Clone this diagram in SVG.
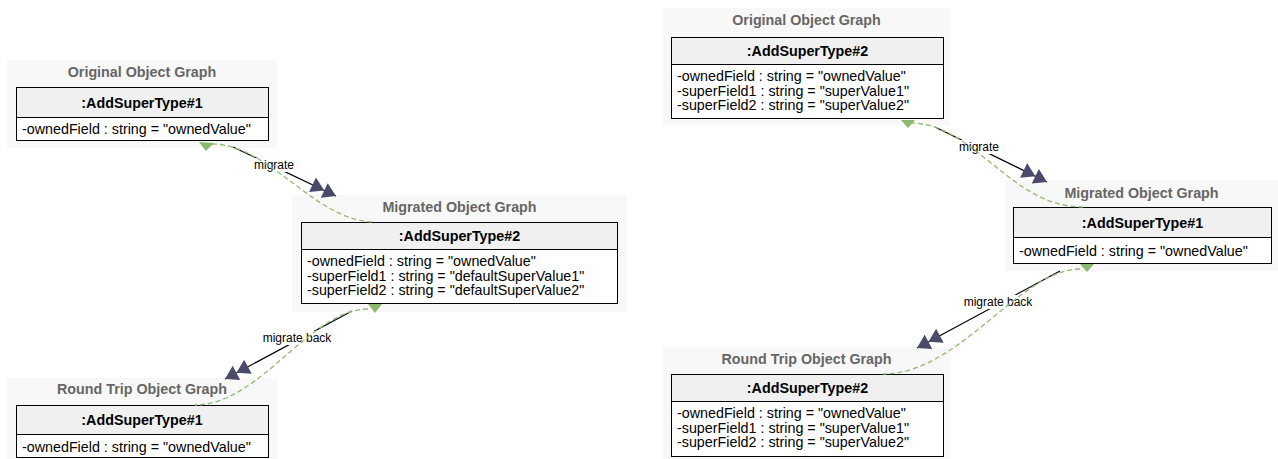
<svg xmlns="http://www.w3.org/2000/svg" width="1278" height="459" viewBox="0 0 1278 459">
<style>
.bg{fill:#f8f8f8;stroke:none}
.hd{fill:#f0f0f0;stroke:#000;stroke-width:1}
.bd{fill:#fff;stroke:#000;stroke-width:1}
.ttl{font-family:"Liberation Sans",Arial,sans-serif;font-size:14.3px;font-weight:bold;fill:#666;text-anchor:middle}
.hdt{font-family:"Liberation Sans",Arial,sans-serif;font-size:14.3px;font-weight:bold;fill:#000;text-anchor:middle}
.bdt{font-family:"Liberation Sans",Arial,sans-serif;font-size:14.3px;fill:#000}
.lbl{font-family:"Liberation Sans",Arial,sans-serif;font-size:12px;fill:#000;text-anchor:middle}
.edge{fill:none;stroke:#000;stroke-width:1.2}
.trace{fill:none;stroke:#8fbc73;stroke-width:1.3;stroke-dasharray:5 3}
.tri{fill:#8db870;stroke:none}
.lblbg{fill:#fff;stroke:none}
</style>
<defs>
<marker id="dbl" markerUnits="userSpaceOnUse" markerWidth="32" markerHeight="20" viewBox="-15 -10 30 20" refX="13" refY="0" orient="auto">
<path d="M-13,-8 L0,0 L-13,8 Z M0,-8 L13,0 L0,8 Z" fill="#4a4a6b"/>
</marker>
</defs>

<g id="lo">
<rect class="bg" x="7" y="60" width="270" height="88"/>
<text class="ttl" x="142" y="77">Original Object Graph</text>
<rect class="hd" x="16.5" y="87.5" width="252" height="30"/>
<text class="hdt" x="142" y="107.5">:AddSuperType#1</text>
<rect class="bd" x="16.5" y="117.5" width="252" height="23"/>
<text class="bdt" x="22" y="134">-ownedField : string = "ownedValue"</text>
</g>

<g id="lm">
<rect class="bg" x="292" y="195" width="335" height="117"/>
<text class="ttl" x="459.5" y="212">Migrated Object Graph</text>
<rect class="hd" x="301.5" y="222.5" width="316" height="27"/>
<text class="hdt" x="459.5" y="241">:AddSuperType#2</text>
<rect class="bd" x="301.5" y="249.5" width="316" height="54"/>
<text class="bdt" x="307" y="266">-ownedField : string = "ownedValue"</text>
<text class="bdt" x="307" y="280.5">-superField1 : string = "defaultSuperValue1"</text>
<text class="bdt" x="307" y="295">-superField2 : string = "defaultSuperValue2"</text>
</g>

<g id="lr">
<rect class="bg" x="7" y="378" width="270" height="81"/>
<text class="ttl" x="142" y="394">Round Trip Object Graph</text>
<rect class="hd" x="16.5" y="405.5" width="252" height="29"/>
<text class="hdt" x="142" y="425">:AddSuperType#1</text>
<rect class="bd" x="16.5" y="434.5" width="252" height="23"/>
<text class="bdt" x="22" y="452">-ownedField : string = "ownedValue"</text>
</g>

<g id="ro">
<rect class="bg" x="663" y="8" width="287" height="117"/>
<text class="ttl" x="806.5" y="25">Original Object Graph</text>
<rect class="hd" x="671.5" y="37.5" width="272" height="27"/>
<text class="hdt" x="807.5" y="56">:AddSuperType#2</text>
<rect class="bd" x="671.5" y="64.5" width="272" height="54"/>
<text class="bdt" x="677" y="81">-ownedField : string = "ownedValue"</text>
<text class="bdt" x="677" y="95.5">-superField1 : string = "superValue1"</text>
<text class="bdt" x="677" y="110">-superField2 : string = "superValue2"</text>
</g>

<g id="rm">
<rect class="bg" x="1005" y="180" width="273" height="91"/>
<text class="ttl" x="1141.5" y="198">Migrated Object Graph</text>
<rect class="hd" x="1013.5" y="207.5" width="258" height="30"/>
<text class="hdt" x="1142.5" y="227.5">:AddSuperType#1</text>
<rect class="bd" x="1013.5" y="237.5" width="258" height="26"/>
<text class="bdt" x="1019" y="256">-ownedField : string = "ownedValue"</text>
</g>

<g id="rr">
<rect class="bg" x="663" y="347" width="287" height="112"/>
<text class="ttl" x="806.5" y="364">Round Trip Object Graph</text>
<rect class="hd" x="671.5" y="374.5" width="272" height="27"/>
<text class="hdt" x="807.5" y="393">:AddSuperType#2</text>
<rect class="bd" x="671.5" y="401.5" width="272" height="55"/>
<text class="bdt" x="677" y="418">-ownedField : string = "ownedValue"</text>
<text class="bdt" x="677" y="432.5">-superField1 : string = "superValue1"</text>
<text class="bdt" x="677" y="447">-superField2 : string = "superValue2"</text>
</g>

<g id="connectors">
<line class="edge" x1="233" y1="147" x2="336" y2="196" marker-end="url(#dbl)"/>
<rect class="lblbg" x="253" y="158" width="42" height="14"/>
<text class="lbl" x="274" y="169">migrate</text>
<path class="trace" d="M212 144 C270 144 315 222 375 222"/>
<polygon class="tri" points="199,142 214,143 206,151"/>

<line class="edge" x1="352" y1="311" x2="225" y2="379" marker-end="url(#dbl)"/>
<rect class="lblbg" x="262" y="331" width="71" height="14"/>
<text class="lbl" x="297" y="342">migrate back</text>
<path class="trace" d="M368 309 C310 309 260 405 195 405"/>
<polygon class="tri" points="368,304 382,304 375,313"/>

<line class="edge" x1="935" y1="127" x2="1047" y2="182" marker-end="url(#dbl)"/>
<rect class="lblbg" x="958" y="140" width="42" height="14"/>
<text class="lbl" x="979" y="151">migrate</text>
<path class="trace" d="M910 123 C975 123 1010 207 1083 207"/>
<polygon class="tri" points="901,120 915,120 908,128"/>

<line class="edge" x1="1060" y1="271" x2="917" y2="348" marker-end="url(#dbl)"/>
<rect class="lblbg" x="963" y="295" width="71" height="14"/>
<text class="lbl" x="998" y="306">migrate back</text>
<path class="trace" d="M1080 269 C1020 269 960 374 883 374"/>
<polygon class="tri" points="1080,264 1094,264 1087,272"/>
</g>
</svg>
